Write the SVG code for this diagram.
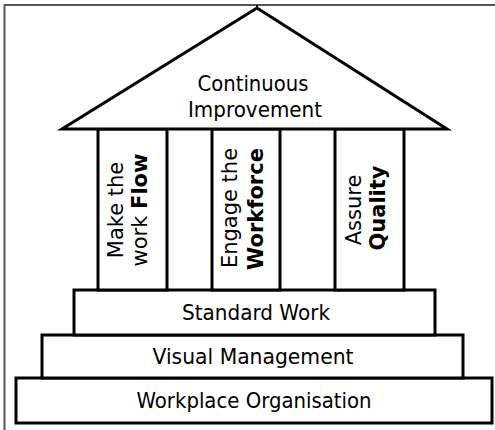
<svg xmlns="http://www.w3.org/2000/svg" width="495" height="430" viewBox="0 0 495 430">
  <style>
    .shape { fill: #fff; stroke: #000; stroke-width: 3; stroke-linejoin: miter; }
    .lbl { font-family: "DejaVu Sans", "Liberation Sans", sans-serif; fill: #000; text-anchor: middle; }
    .step { font-size: 21px; }
    .col { font-size: 21px; }
    .roof { font-size: 22px; }
    .b { font-weight: bold; }
  </style>
  <rect width="495" height="430" fill="#fff"/>
  <!-- page frame -->
  <path d="M4.5 430 V5 H495" fill="none" stroke="#555" stroke-width="2"/>

  <!-- foundation steps -->
  <g id="workplace-organisation">
    <rect class="shape" x="16" y="378" width="476" height="45"/>
    <text class="lbl step" x="254" y="408" textLength="235" lengthAdjust="spacingAndGlyphs">Workplace Organisation</text>
  </g>
  <g id="visual-management">
    <rect class="shape" x="42" y="335" width="421" height="43"/>
    <text class="lbl step" x="253" y="364" textLength="201" lengthAdjust="spacingAndGlyphs">Visual Management</text>
  </g>
  <g id="standard-work">
    <rect class="shape" x="74" y="290" width="361" height="45"/>
    <text class="lbl step" x="256" y="320" textLength="148" lengthAdjust="spacingAndGlyphs">Standard Work</text>
  </g>

  <!-- pillars -->
  <g id="pillar-flow">
    <rect class="shape" x="98" y="129" width="69" height="161"/>
    <text class="lbl col" transform="translate(123 210) rotate(-90)">Make the</text>
    <text class="lbl col" transform="translate(147 210) rotate(-90)">work <tspan class="b">Flow</tspan></text>
  </g>
  <g id="pillar-workforce">
    <rect class="shape" x="212" y="129" width="68" height="161"/>
    <text class="lbl col" transform="translate(237 208) rotate(-90)">Engage the</text>
    <text class="lbl col b" transform="translate(263 209) rotate(-90)">Workforce</text>
  </g>
  <g id="pillar-quality">
    <rect class="shape" x="335" y="129" width="69" height="161"/>
    <text class="lbl col" transform="translate(361 210) rotate(-90)">Assure</text>
    <text class="lbl col b" transform="translate(385 208) rotate(-90)">Quality</text>
  </g>

  <!-- roof -->
  <g id="roof">
    <path class="shape" d="M257 8 L447 129 H62 Z"/>
    <line x1="257" y1="5" x2="257" y2="9" stroke="#000" stroke-width="2"/>
    <text class="lbl roof" x="253" y="91" textLength="111" lengthAdjust="spacingAndGlyphs">Continuous</text>
    <text class="lbl roof" x="255" y="117" textLength="134" lengthAdjust="spacingAndGlyphs">Improvement</text>
  </g>
</svg>
